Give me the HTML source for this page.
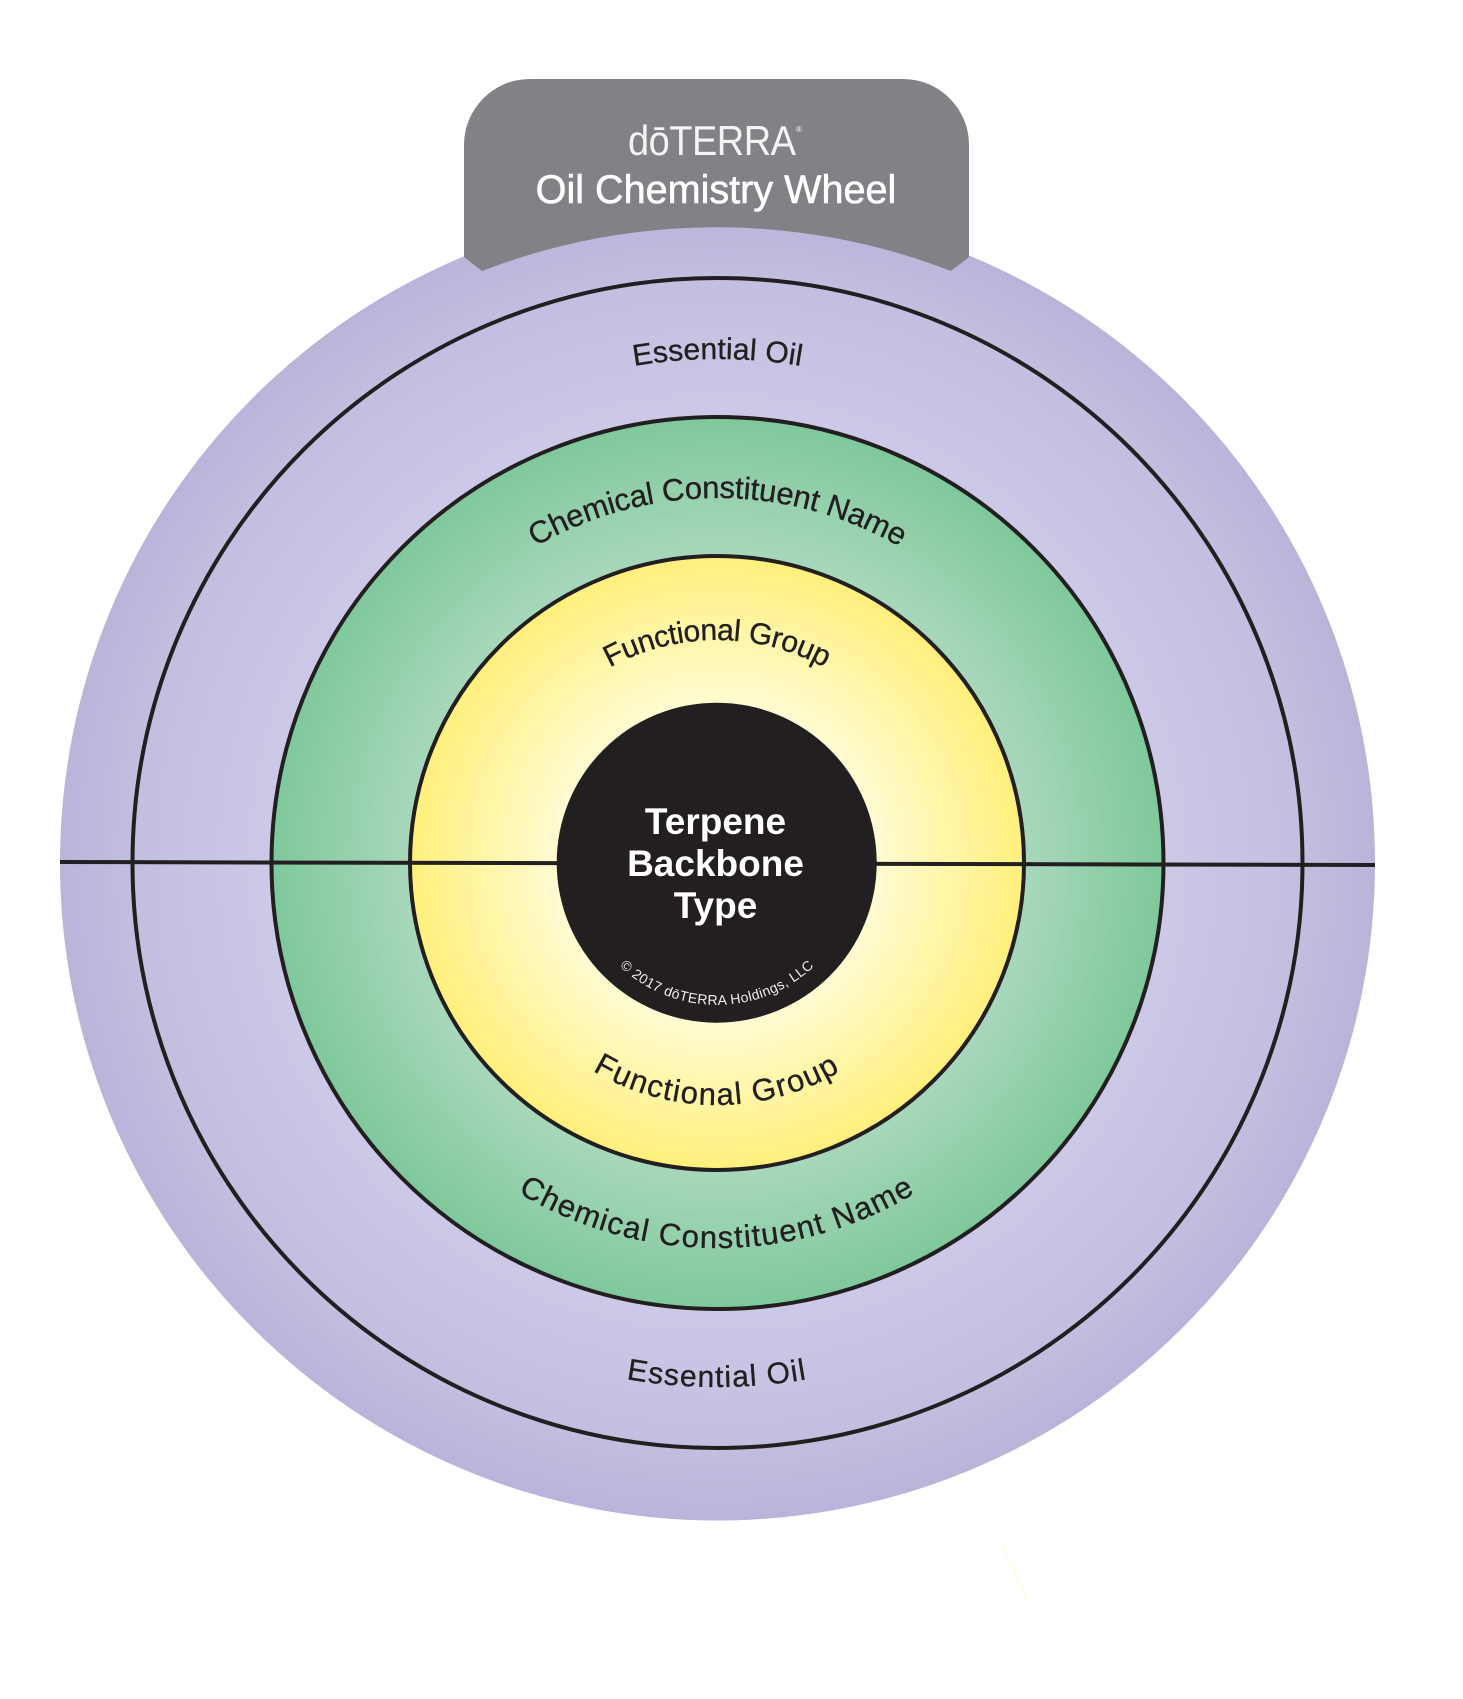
<!DOCTYPE html>
<html><head><meta charset="utf-8"><style>
html,body{margin:0;padding:0;background:#fff;width:1463px;height:1699px;overflow:hidden}
svg{display:block}
text{font-family:"Liberation Sans",sans-serif;fill:#231f20}
.l{stroke:#231f20;stroke-width:.35px}
</style></head><body>
<svg width="1463" height="1699" viewBox="0 0 1463 1699" xmlns="http://www.w3.org/2000/svg">
<defs>
<radialGradient id="gp" gradientUnits="userSpaceOnUse" cx="717.5" cy="863" r="657.5">
<stop offset="0.66" stop-color="#cdcae8"/><stop offset="0.88" stop-color="#c3bfe0"/><stop offset="1" stop-color="#b9b4d9"/></radialGradient>
<radialGradient id="gg" gradientUnits="userSpaceOnUse" cx="717.5" cy="863" r="446">
<stop offset="0.68" stop-color="#a9d8bc"/><stop offset="1" stop-color="#7fc89c"/></radialGradient>
<radialGradient id="gy" gradientUnits="userSpaceOnUse" cx="717" cy="863" r="307">
<stop offset="0.52" stop-color="#fffbd2"/><stop offset="1" stop-color="#fff07c"/></radialGradient>
<path id="t1" d="M213.5 863A504 504 0 0 1 1221.5 863"/>
<path id="t2" d="M352.5 863A365 365 0 0 1 1082.5 863"/>
<path id="t3" d="M494 863A223 223 0 0 1 940 863"/>
<path id="b1" d="M193 863A524 524 0 0 0 1241 863"/>
<path id="b2" d="M332 863A385 385 0 0 0 1102 863"/>
<path id="b3" d="M475 863A242 242 0 0 0 959 863"/>
<path id="b4" d="M575 863A142 142 0 0 0 859 863"/>
</defs>
<circle cx="717.5" cy="863" r="657.5" fill="url(#gp)"/>
<circle cx="717.5" cy="863" r="585" fill="none" stroke="#231f20" stroke-width="4"/>
<circle cx="717.5" cy="863" r="446" fill="url(#gg)" stroke="#231f20" stroke-width="4"/>
<circle cx="717" cy="863" r="307" fill="url(#gy)" stroke="#231f20" stroke-width="4"/>
<line x1="60" y1="862" x2="1375" y2="865" stroke="#231f20" stroke-width="4"/>
<circle cx="716.7" cy="862.7" r="160" fill="#231f20"/>
<path d="M464 257V145A66 66 0 0 1 530 79H903A66 66 0 0 1 969 145V257L951 271A650 650 0 0 0 482 271Z" fill="#808285"/>
<line x1="1002" y1="1545" x2="1028" y2="1600" stroke="#fefef0" stroke-width="3"/>

<text transform="translate(628 155) scale(1 1.1)" x="0" y="0" style="font-size:38px;fill:#f4f4f4" textLength="168">dōTERRA</text>
<text x="796" y="132" style="font-size:8px;fill:#fff">®</text>
<text x="716" y="203" text-anchor="middle" style="font-size:39.6px;fill:#fff;stroke:#fff;stroke-width:.6px">Oil Chemistry Wheel</text>

<text class="l" text-anchor="middle" style="font-size:30px;letter-spacing:.07px"><textPath href="#t1" startOffset="50%">Essential Oil</textPath></text>
<text class="l" text-anchor="middle" style="font-size:31px;letter-spacing:-.2px"><textPath href="#t2" startOffset="50%">Chemical Constituent Name</textPath></text>
<text class="l" text-anchor="middle" style="font-size:30px;letter-spacing:-.4px"><textPath href="#t3" startOffset="50%">Functional Group</textPath></text>
<text class="l" text-anchor="middle" style="font-size:30px;letter-spacing:1.2px"><textPath href="#b1" startOffset="50%">Essential Oil</textPath></text>
<text class="l" text-anchor="middle" style="font-size:31px;letter-spacing:1.3px"><textPath href="#b2" startOffset="50%">Chemical Constituent Name</textPath></text>
<text class="l" text-anchor="middle" style="font-size:31px;letter-spacing:1.45px"><textPath href="#b3" startOffset="50%">Functional Group</textPath></text>
<text text-anchor="middle" style="font-size:14px;letter-spacing:.4px;fill:#eee"><textPath href="#b4" startOffset="50%">© 2017 dōTERRA Holdings, LLC</textPath></text>

<g text-anchor="middle" style="font-size:37px;font-weight:bold">
<text x="715.5" y="834" style="fill:#fff">Terpene</text>
<text x="715.5" y="876" style="fill:#fff">Backbone</text>
<text x="715.5" y="918" style="fill:#fff">Type</text>
</g>
</svg>
</body></html>
